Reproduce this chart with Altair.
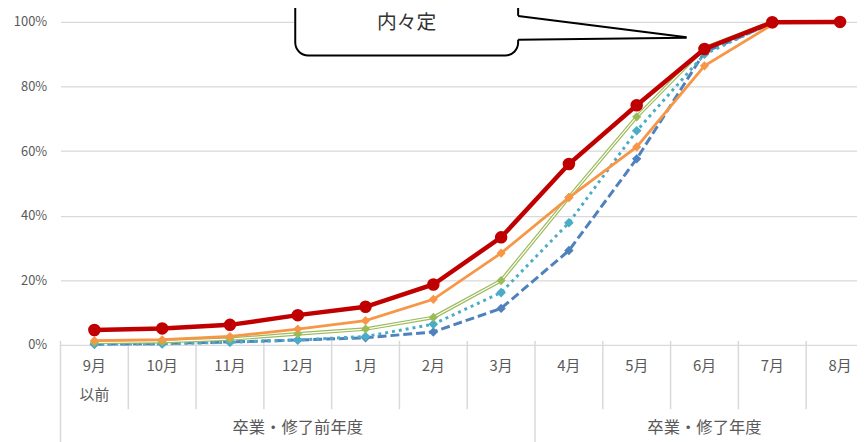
import altair as alt
import pandas as pd

# ---------------- data ----------------
months = ["9月", "10月", "11月", "12月", "1月", "2月", "3月", "4月", "5月", "6月", "7月", "8月"]
month_sub = ["以前", "", "", "", "", "", "", "", "", "", "", ""]
month_group = [0, 0, 0, 0, 0, 0, 0, 1, 1, 1, 1, 1]
groups = ["卒業・修了前年度", "卒業・修了年度"]

red = [4.6, 5.1, 6.2, 9.2, 11.8, 18.7, 33.3, 56.0, 74.2, 91.6, 99.9, 100.0]
orange = [1.3, 1.6, 2.6, 4.9, 7.5, 14.1, 28.4, 45.6, 61.3, 86.4, 99.2]
green = [0.8, 1.0, 1.8, 3.4, 4.9, 8.5, 19.9, 45.7, 70.6, 92.0, 100.0]
teal = [0.2, 0.3, 0.8, 1.5, 2.6, 6.4, 16.2, 37.8, 66.3, 90.0, 99.8]
blue = [0.2, 0.4, 0.9, 1.5, 2.2, 4.0, 11.3, 29.2, 57.6, 90.6, 99.6]

y_ticks = [0, 20, 40, 60, 80, 100]
callout_lines = ["約8割が6月までに", "内々定"]

# ---------------- helpers ----------------
FONT = "Noto Sans CJK JP"
GRAY = "#595959"
GRID = "#D9D9D9"
W, H = 804, 326

xs = alt.Scale(domain=[-0.5, 11.25], nice=False, zero=False)
ys = alt.Scale(domain=[0, 100], nice=False, zero=False)

Y_AXIS = alt.Axis(
    values=y_ticks,
    labelExpr="datum.value + '%'",
    grid=True,
    gridColor=GRID,
    gridWidth=1.3,
    domain=False,
    ticks=False,
    labelColor=GRAY,
    labelFontSize=13,
    labelFont=FONT,
    labelPadding=14,
    title=None,
)


def X(f):
    return alt.X(f, type="quantitative", scale=xs, axis=None)


def Y(f):
    return alt.Y(f, type="quantitative", scale=ys, axis=Y_AXIS)


def sdf(vals):
    return pd.DataFrame({"i": list(range(len(vals))), "v": vals})


def line(vals, color, width, dash=None):
    kw = dict(color=color, strokeWidth=width)
    if dash is not None:
        kw["strokeDash"] = dash
    return alt.Chart(sdf(vals)).mark_line(**kw).encode(x=X("i"), y=Y("v"))


def pts(vals, color, shape, size):
    return alt.Chart(sdf(vals)).mark_point(
        shape=shape, filled=True, size=size, color=color, opacity=1
    ).encode(x=X("i"), y=Y("v"))


# category separators
bnd = pd.DataFrame(
    {
        "b": [i - 0.5 for i in range(len(months))],
        "long": [i == 0 or month_group[i] != month_group[i - 1] for i in range(len(months))],
    }
)
short_rules = alt.Chart(bnd[~bnd["long"]]).mark_rule(color=GRID, strokeWidth=1.5).encode(
    x=X("b"), y=alt.value(322), y2=alt.value(391)
)
long_rules = alt.Chart(bnd[bnd["long"]]).mark_rule(color=GRID, strokeWidth=1.5).encode(
    x=X("b"), y=alt.value(322), y2=alt.value(H + 100)
)

mdf = pd.DataFrame({"i": list(range(len(months))), "m": months, "s": month_sub, "g": month_group})
month_text = alt.Chart(mdf).mark_text(font=FONT, fontSize=15, color=GRAY, baseline="middle").encode(
    x=X("i"), y=alt.value(347), text="m:N"
)
sub_text = alt.Chart(mdf[mdf["s"] != ""]).mark_text(
    font=FONT, fontSize=15, color=GRAY, baseline="middle"
).encode(x=X("i"), y=alt.value(377), text="s:N")

gdf = mdf.groupby("g", as_index=False)["i"].mean()
gdf["name"] = [groups[g] for g in gdf["g"]]
group_text = alt.Chart(gdf).mark_text(font=FONT, fontSize=16.5, color=GRAY, baseline="middle").encode(
    x=X("i"), y=alt.value(410), text="name:N"
)

# series
layers = [
    line(blue, "#4F81BD", 3, [9, 4]),
    pts(blue, "#4F81BD", "diamond", 90),
    line(teal, "#4BACC6", 3, [3, 4]),
    pts(teal, "#4BACC6", "diamond", 95),
    line(green, "#9BBB59", 3.6),
    line(green, "#FFFFFF", 1.2),
    pts(green, "#9BBB59", "diamond", 85),
    line(orange, "#F79646", 2.8),
    pts(orange, "#F79646", "diamond", 85),
    line(red, "#C00000", 4.5),
    pts(red, "#C00000", "circle", 160),
]

# callout
box = pd.DataFrame({"x1": [2.963], "x2": [6.251], "y1": [89.6], "y2": [118.0]})
box_layer = alt.Chart(box).mark_rect(
    fill="white", stroke="black", strokeWidth=2, cornerRadius=13
).encode(x=X("x1"), x2="x2:Q", y=Y("y1"), y2="y2:Q")

ptr = pd.DataFrame({"x": [6.20, 8.736], "yt": [101.98, 95.25], "yb": [94.47, 95.09]})
ptr_fill = alt.Chart(ptr).mark_area(fill="white", opacity=1).encode(x=X("x"), y=Y("yt"), y2="yb:Q")
ptr_edges = pd.DataFrame(
    {
        "seg": ["u", "u", "l", "l"],
        "x": [6.251, 8.736, 6.251, 8.736],
        "y": [101.84, 95.25, 94.48, 95.09],
    }
)
ptr_lines = alt.Chart(ptr_edges).mark_line(color="black", strokeWidth=2).encode(
    x=X("x"), y=Y("y"), detail="seg:N"
)
cdf = pd.DataFrame({"t": callout_lines, "x": [4.607, 4.607], "y": [107.3, 99.8]})
callout_text = alt.Chart(cdf).mark_text(font=FONT, fontSize=20, color="#333333", baseline="middle").encode(
    x=X("x"), y=Y("y"), text="t:N"
)

chart = alt.layer(
    short_rules,
    long_rules,
    month_text,
    sub_text,
    group_text,
    *layers,
    box_layer,
    ptr_fill,
    ptr_lines,
    callout_text,
).properties(
    width=W,
    height=H,
    padding={"left": 53, "top": 12, "right": 0, "bottom": 96},
    autosize=alt.AutoSizeParams(type="none"),
).configure_view(stroke=None)

chart.save("out.html", embed_options={"renderer": "svg", "actions": False})
